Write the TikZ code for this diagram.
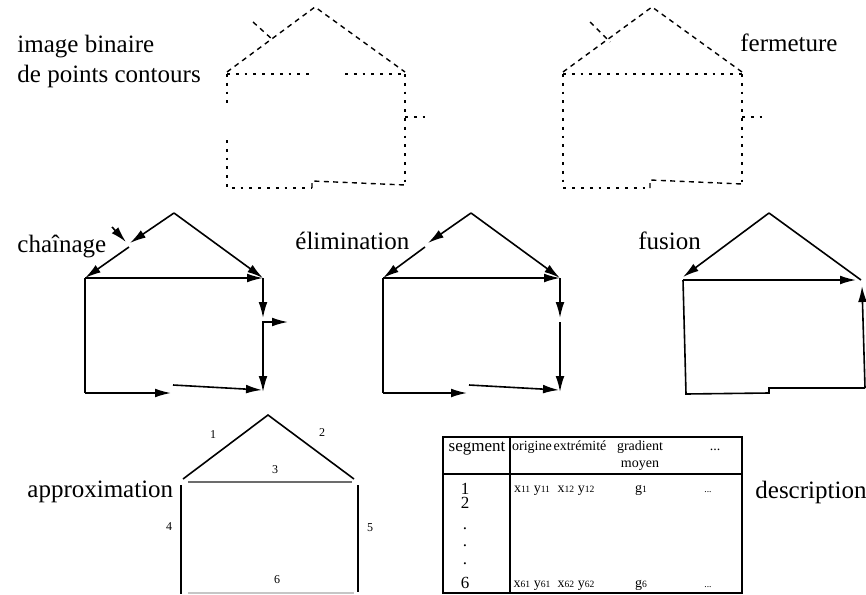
\documentclass[tikz,border=0pt]{standalone}
\usepackage{fontspec}
\setmainfont{Liberation Serif}
\usetikzlibrary{arrows.meta}
\newcommand{\idx}[1]{{\fontsize{4.8}{5}\selectfont #1}}
\begin{document}
\begin{tikzpicture}[x=0.5pt,y=-0.5pt,
	dotline/.style={line width=0.7pt,dash pattern=on 1.4pt off 3pt},
	dashline/.style={line width=0.7pt,dash pattern=on 2.5pt off 2.2pt},
	vec/.style={line width=0.8pt,-{Latex[length=8pt,width=4.4pt]}},
	seg/.style={line width=0.8pt},
	title/.style={font=\fontsize{12.5}{15}\selectfont,anchor=base west,inner sep=0pt},
	cell/.style={font=\fontsize{7}{8}\selectfont,anchor=base,inner sep=0pt},
	num/.style={font=\fontsize{8.5}{10}\selectfont,anchor=base,inner sep=0pt,text depth=0pt},
	lbl/.style={font=\fontsize{6}{7}\selectfont,inner sep=0pt}]
	\useasboundingbox (0,0) rectangle (866,594);
	% titles
	\node[title] (t-image) at (17,52) {image binaire};
	\node[title] (t-points) at (17,82) {de points contours};
	\node[title] (t-ferm) at (740,51) {fermeture};
	\node[title] (t-chain) at (17,252) {chaînage};
	\node[title] (t-elim) at (295,249) {élimination};
	\node[title] (t-fus) at (638,249) {fusion};
	\node[title] (t-appr) at (27,497) {approximation};
	\node[title] (t-desc) at (755,498) {description};
	% image binaire
	\draw[dashline] (227,72) -- (315,7) -- (405,72);
	\draw[dashline] (253,22) -- (273,40);
	\draw[dotline] (227,74) -- (313,74);
	\draw[dotline] (345,74) -- (405,74);
	\draw[dotline] (227,74) -- (227,108);
	\draw[dotline] (227,140) -- (227,188) -- (312,188);
	\draw[dashline] (312,188) -- (312,181) -- (405,185);
	\draw[dotline] (405,74) -- (405,185);
	\draw[dotline] (405,117) -- (425,117);
	% fermeture
	\draw[dashline] (563,72) -- (652,7) -- (742,72);
	\draw[dashline] (590,22) -- (610,42);
	\draw[dotline] (563,74) -- (742,74);
	\draw[dotline] (563,74) -- (563,188) -- (650,188);
	\draw[dashline] (650,188) -- (650,180) -- (742,184);
	\draw[dotline] (742,74) -- (742,185);
	\draw[dotline] (742,117) -- (762,117);
	% chainage
	\coordinate (ca) at (174,213);
	\coordinate (ctl) at (85,278);
	\coordinate (ctr) at (263,278);
	\coordinate (cbl) at (85,393);
	\coordinate (cbr) at (263,392);
	\draw[vec] (ca) -- (130,243);
	\draw[vec] (129,247) -- (ctl);
	\draw[vec] (112,227) -- (126,242);
	\draw[vec] (ca) -- (ctr);
	\draw[vec] (ctl) -- (ctr);
	\draw[seg] (ctl) -- (cbl);
	\draw[vec] (cbl) -- (171,393);
	\draw[vec] (173,385) -- (262,390);
	\draw[vec] (ctr) -- (263,318);
	\draw[vec] (263,321) -- (cbr);
	\draw[vec] (263,322) -- (288,322);
	% elimination
	\coordinate (ea) at (471,213);
	\coordinate (etl) at (383,278);
	\coordinate (etr) at (560,278);
	\coordinate (ebl) at (383,393);
	\coordinate (ebr) at (560,392);
	\draw[vec] (ea) -- (428,243);
	\draw[vec] (425,247) -- (etl);
	\draw[vec] (ea) -- (etr);
	\draw[vec] (etl) -- (etr);
	\draw[seg] (etl) -- (ebl);
	\draw[vec] (ebl) -- (467,393);
	\draw[vec] (469,385) -- (559,390);
	\draw[vec] (etr) -- (560,318);
	\draw[vec] (560,322) -- (ebr);
	% fusion
	\coordinate (fa) at (769,213);
	\coordinate (ftl) at (683,280);
	\coordinate (fbl) at (686,394);
	\coordinate (fbr) at (865,388);
	\draw[vec] (fa) -- (683,277);
	\draw[seg] (fa) -- (861,280);
	\draw[vec] (ftl) -- (856,280);
	\draw[seg] (ftl) -- (fbl) -- (769,393) -- (769,388) -- (fbr);
	\draw[vec] (fbr) -- (862,286);
	% approximation
	\coordinate (aa) at (268,415);
	\coordinate (al) at (183,479);
	\coordinate (ar) at (354,479);
	\draw[seg] (al) -- (aa) -- (ar);
	\draw[seg,gray!85!black] (188,482) -- (352,482);
	\draw[seg] (181,485) -- (181,594);
	\draw[seg] (358,485) -- (358,592);
	\draw[seg,gray!45] (188,593) -- (354,593);
	\node[lbl] (n1) at (213,435) {1};
	\node[lbl] (n2) at (322,433) {2};
	\node[lbl] (n3) at (275,470) {3};
	\node[lbl] (n4) at (169,527) {4};
	\node[lbl] (n5) at (370,528) {5};
	\node[lbl] (n6) at (277,580) {6};
	% description
	\draw[line width=0.8pt] (443,437) rectangle (742,593);
	\draw[line width=0.8pt] (510,437) -- (510,593);
	\draw[line width=0.8pt] (443,474) -- (742,474);
	\node[cell,font=\fontsize{8.5}{10}\selectfont] (h-seg) at (477,451) {segment};
	\node[cell] (h-org) at (532,450) {origine};
	\node[cell] (h-ext) at (580,450) {extrémité};
	\node[cell] (h-grad) at (640,450) {gradient};
	\node[cell] (h-dots) at (715,450) {...};
	\node[cell] (h-moy) at (640,467) {moyen};
	\node[num] (r1) at (465,494) {1};
	\node[num] (r2) at (465,508) {2};
	\node[num] (d1) at (465,529) {.};
	\node[num] (d2) at (465,546) {.};
	\node[num] (d3) at (465,564) {.};
	\node[num] (r6) at (465,588) {6};
	\node[cell] (o1) at (532,492) {x\idx{11} y\idx{11}};
	\node[cell] (e1) at (576,492) {x\idx{12} y\idx{12}};
	\node[cell] (g1) at (641,492) {g\idx{1}};
	\node[cell] (p1) at (708,492) {\idx{...}};
	\node[cell] (o6) at (532,587) {x\idx{61} y\idx{61}};
	\node[cell] (e6) at (576,587) {x\idx{62} y\idx{62}};
	\node[cell] (g6) at (641,587) {g\idx{6}};
	\node[cell] (p6) at (708,587) {\idx{...}};
\end{tikzpicture}
\end{document}
